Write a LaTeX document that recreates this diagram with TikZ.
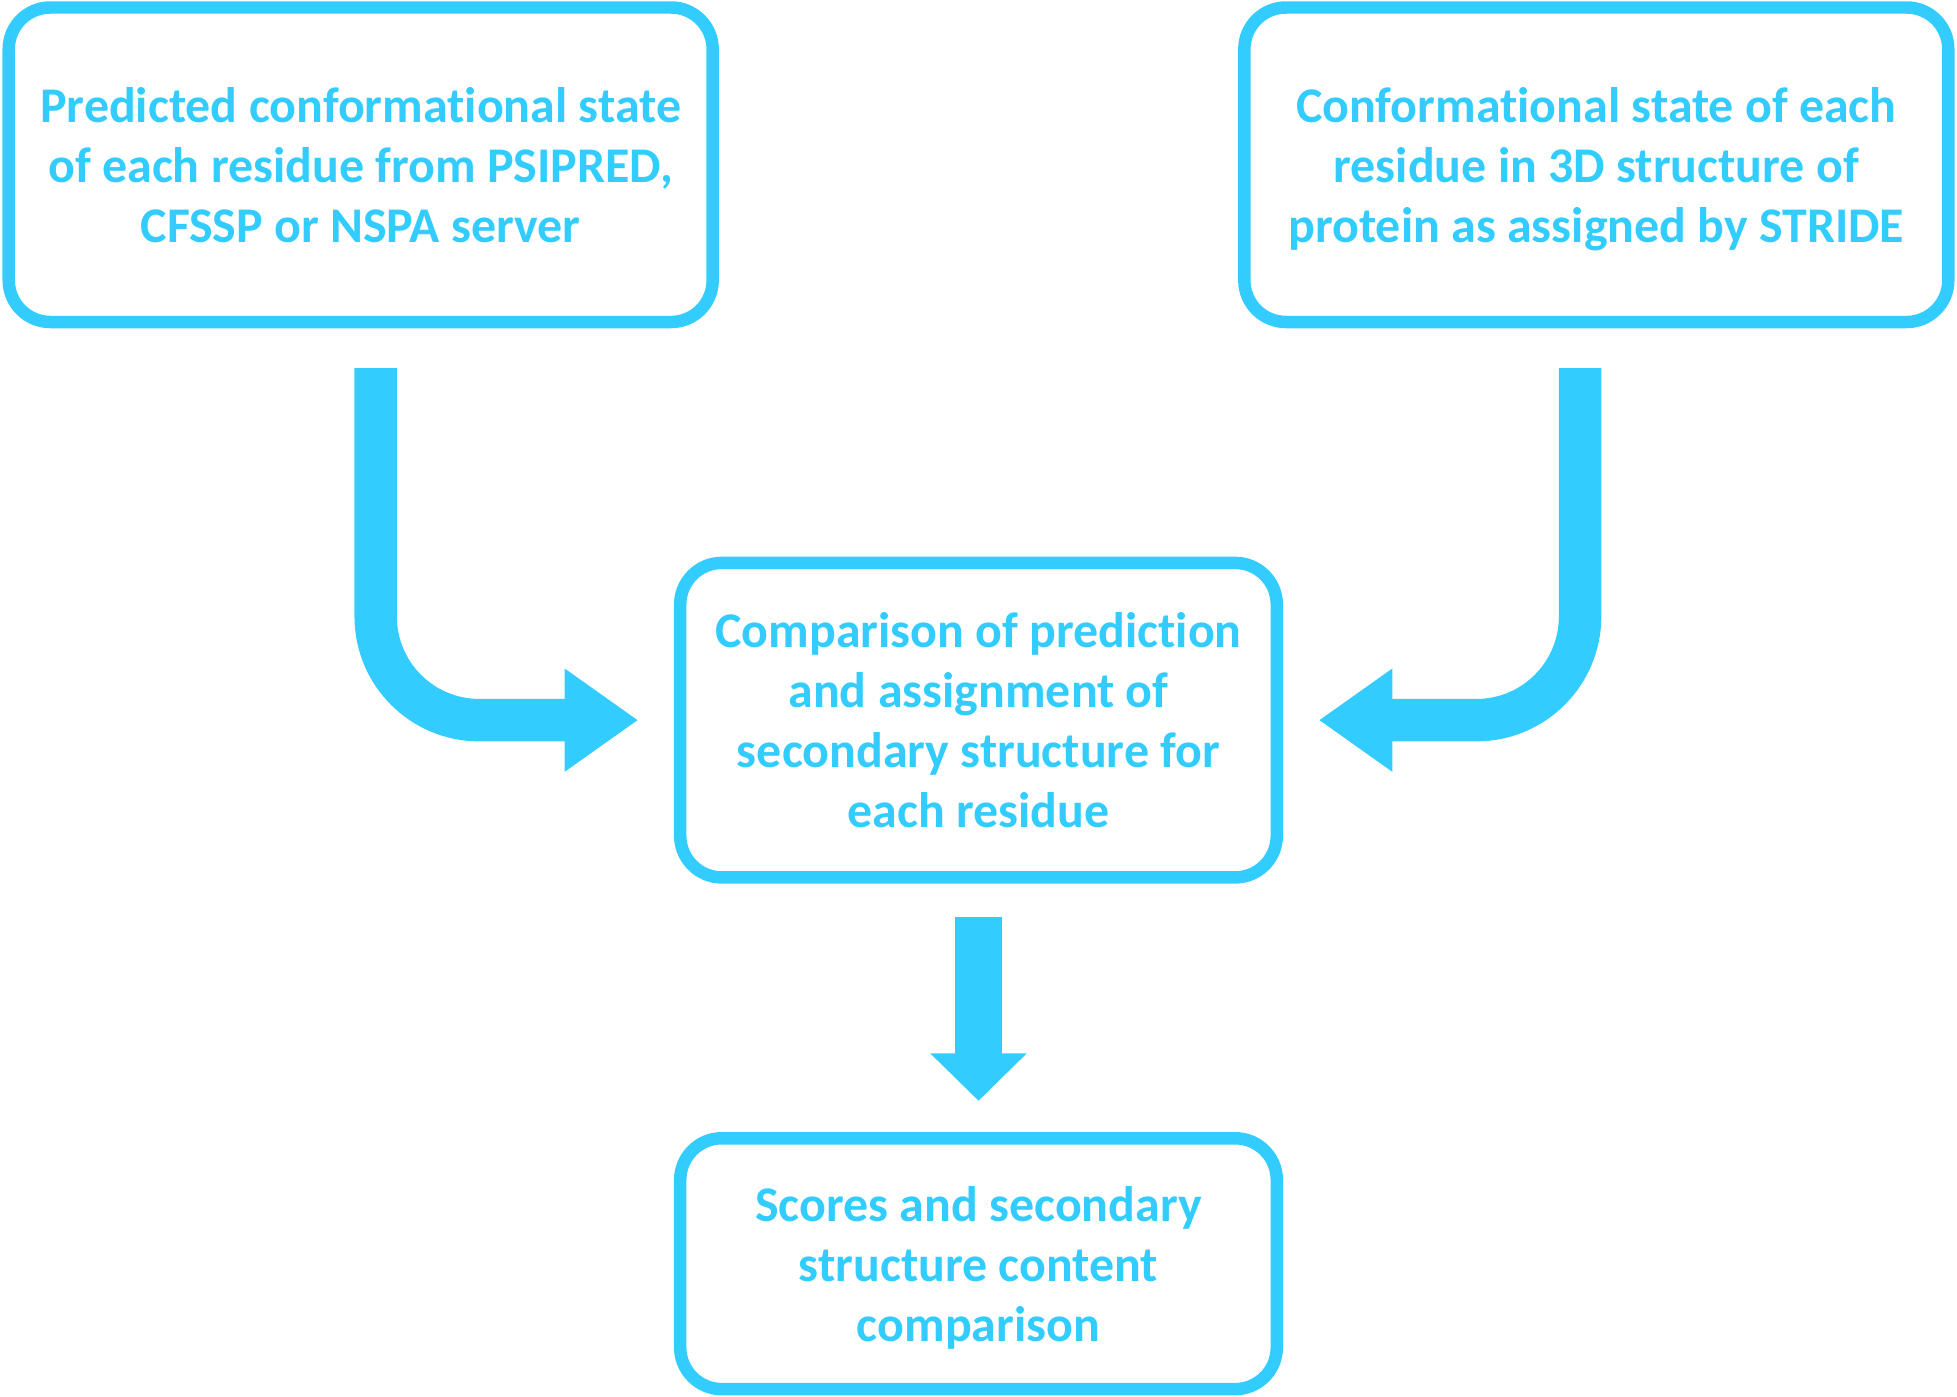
\documentclass[tikz,border=0pt]{standalone}
\usepackage{fontspec}
\setmainfont[Ligatures=NoCommon]{Carlito}
\usetikzlibrary{arrows.meta}
\definecolor{sky}{HTML}{33CCFF}
\begin{document}
\begin{tikzpicture}
  [x=0.3pt,y=-0.3pt,
   box/.style={draw=sky,line width=3pt,rounded corners=10pt,align=center,
     text=sky,text depth=0pt,font=\bfseries\fontsize{12}{14.4}\selectfont},
   bigarrow/.style={draw=sky,line width=10.2pt,-{Triangle[length=17.7pt,width=23.6pt]}},
   downarrow/.style={draw=sky,line width=11.1pt,-{Triangle[length=11.4pt,width=22.5pt]}}]
  \useasboundingbox (0,0) rectangle (1568,1119);
  \node (pred)[box,minimum width=169.2pt,minimum height=75.6pt] at (289,132)
    {Predicted conformational state\\of each residue from PSIPRED,\\CFSSP or NSPA server};
  \node (stride)[box,minimum width=169.2pt,minimum height=75.6pt] at (1279,132)
    {Conformational state of each\\residue in 3D structure of\\protein as assigned by STRIDE};
  \node (comp)[box,minimum width=143.4pt,minimum height=75.6pt] at (784,577)
    {Comparison of prediction\\and assignment of\\secondary structure for\\each residue};
  \node (score)[box,minimum width=143.4pt,minimum height=60.3pt] at (784,1012.5)
    {Scores and secondary\\structure content\\comparison};

  \coordinate (p0) at (301,295);
  \coordinate (s0) at (1266,295);

  \draw[bigarrow] (p0) [rounded corners=24.9pt] |- ([xshift=-8.6pt]comp.west);
  \draw[bigarrow] (s0) [rounded corners=24.9pt] |- ([xshift=8.6pt]comp.east);
  \draw[downarrow] ([yshift=-8.1pt]comp.south) -- ([yshift=7.5pt]score.north);

\end{tikzpicture}
\end{document}
